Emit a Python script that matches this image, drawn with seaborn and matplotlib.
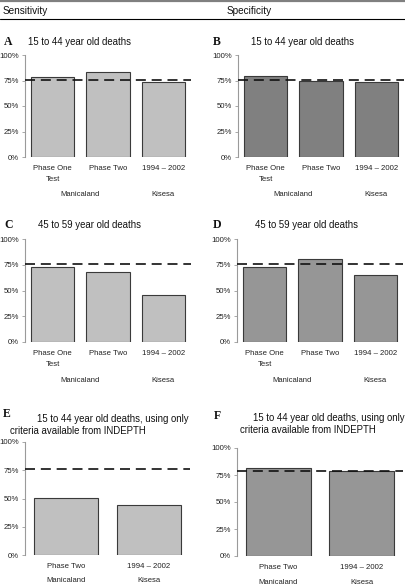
import numpy as np
import pandas as pd
import seaborn as sns
import matplotlib.pyplot as plt
from matplotlib.lines import Line2D

# values (percent)
labels3 = ["Phase One\nTest", "Phase Two", "1994 \u2013 2002"]
labels2 = ["Phase Two", "1994 \u2013 2002"]
sites3 = ["Manicaland", "Manicaland", "Kisesa"]
sites2 = ["Manicaland", "Kisesa"]

sens_15_44 = [78.7, 83.6, 73.8]
spec_15_44 = [79.2, 74.3, 73.3]
sens_45_59 = [72.5, 67.7, 45.6]
spec_45_59 = [72.5, 80.6, 65.0]
sens_indepth = [50.5, 44.2]
spec_indepth = [81.5, 78.7]
ref_lines = [75.5, 75.5, 75.7, 75.7, 75.8, 78.4]

ytick_vals = [0, 25, 50, 75, 100]
ytick_labels = ["0%", "25%", "50%", "75%", "100%"]

W, H = 405, 588
sns.set_style("white")
plt.rcParams["font.family"] = ["Liberation Sans", "DejaVu Sans"]

fig = plt.figure(figsize=(W / 100, H / 100), dpi=100)


def rect(left, top, right, bottom):
    return [left / W, 1 - bottom / H, (right - left) / W, (bottom - top) / H]


def ftext(x, y, s, **kw):
    fig.text(x / W, 1 - y / H, s, **kw)


# header
fig.add_artist(Line2D([0, 1], [1 - 1 / H, 1 - 1 / H], color="#808080", lw=1.6))
fig.add_artist(Line2D([0, 1], [1 - 19 / H, 1 - 19 / H], color="black", lw=0.8))
ftext(3, 11, "Sensitivity", fontsize=7.2, va="center", color="#111111")
ftext(227, 11, "Specificity", fontsize=7.2, va="center", color="#111111")

panels = [
    # letter, values, labels, sites, colour, axes box (left, top, right, bottom px)
    ("A", sens_15_44, labels3, sites3, "#c0c0c0", (25, 55, 191, 157)),
    ("B", spec_15_44, labels3, sites3, "#808080", (238, 55, 404, 157)),
    ("C", sens_45_59, labels3, sites3, "#c0c0c0", (25, 239, 191, 342)),
    ("D", spec_45_59, labels3, sites3, "#969696", (237, 239, 403, 342)),
    ("E", sens_indepth, labels2, sites2, "#c0c0c0", (25, 442, 190, 555)),
    ("F", spec_indepth, labels2, sites2, "#969696", (237, 448, 403, 556)),
]

for i, (letter, vals, labs, sites, col, box) in enumerate(panels):
    ax = fig.add_axes(rect(*box))
    n = len(vals)
    df = pd.DataFrame({"cat": labs, "val": vals})
    if n == 3:
        width = 0.78
        ax.set_xlim(-0.51, 2.42)
    else:
        width = 0.776
        ax.set_xlim(-0.51, 1.42)
    sns.barplot(data=df, x="cat", y="val", color=col, saturation=1,
                edgecolor="#3a3a3a", linewidth=0.8, width=width, ax=ax)
    ax.axhline(ref_lines[i], color="#111111", lw=1.2, dashes=(6, 3.5), zorder=5)
    ax.set_ylim(0, 100)
    ax.set_yticks(ytick_vals)
    ax.set_yticklabels(ytick_labels)
    ax.set_xlabel("")
    ax.set_ylabel("")
    for s in ["top", "right", "bottom"]:
        ax.spines[s].set_visible(False)
    ax.spines["left"].set_color("#9a9a9a")
    ax.spines["left"].set_linewidth(0.8)
    ax.tick_params(axis="y", length=2.5, width=0.6, color="#9a9a9a",
                   labelsize=5.6, pad=2, labelcolor="#222222", left=True)
    ax.tick_params(axis="x", length=0, labelsize=5.6, pad=6, labelcolor="#222222")
    for t in ax.get_xticklabels():
        t.set_linespacing(1.7)
        t.set_va("top")

    # site labels below the categories
    group_off = 38 if n == 3 else 26
    ylab = -group_off / (box[3] - box[1])
    trans = ax.get_xaxis_transform()
    if n == 3:
        ax.text(0.5, ylab, sites[0], transform=trans, ha="center", va="center",
                fontsize=5.5, color="#222222")
        ax.text(2, ylab, sites[2], transform=trans, ha="center", va="center",
                fontsize=5.5, color="#222222")
    else:
        for k in range(2):
            ax.text(k, ylab, sites[k], transform=trans, ha="center", va="center",
                    fontsize=5.5, color="#222222")

# panel letters and titles
letter_font = dict(family=["Liberation Serif", "DejaVu Serif"], fontsize=8.5,
                   fontweight="bold", va="center", color="#111111")
title_font = dict(fontsize=6.9, va="center", color="#111111")

ftext(4, 42, "A", **letter_font)
ftext(28, 42, "15 to 44 year old deaths", **title_font)
ftext(213, 42, "B", **letter_font)
ftext(251, 42, "15 to 44 year old deaths", **title_font)
ftext(4, 225, "C", **letter_font)
ftext(38, 225, "45 to 59 year old deaths", **title_font)
ftext(213, 225, "D", **letter_font)
ftext(255, 225, "45 to 59 year old deaths", **title_font)
ftext(3, 414, "E", **letter_font)
ftext(37, 419, "15 to 44 year old deaths, using only", **title_font)
ftext(10, 431, "criteria available from INDEPTH", **title_font)
ftext(214, 416, "F", **letter_font)
ftext(253, 418, "15 to 44 year old deaths, using only", **title_font)
ftext(240, 430, "criteria available from INDEPTH", **title_font)

fig.savefig("out.png", dpi=100)
